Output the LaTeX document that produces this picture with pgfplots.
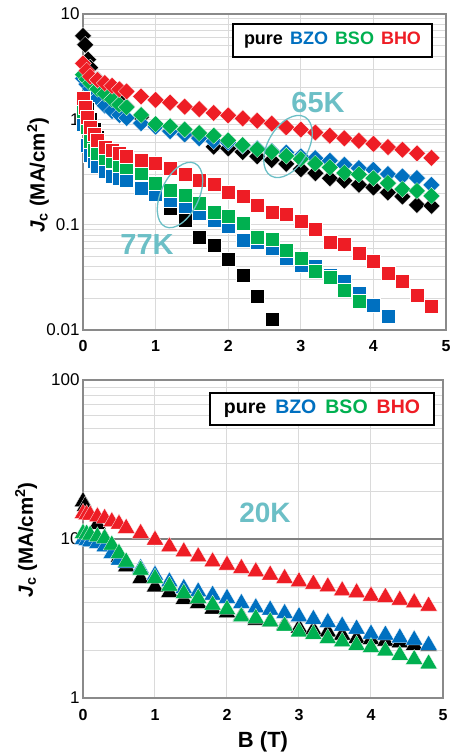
\documentclass[border=0pt]{standalone}
\usepackage{fontspec}
\setmainfont{Liberation Sans}
\usepackage{pgfplots}
\pgfplotsset{compat=1.18}
\usepackage{pgfplotstable}

\definecolor{cpure}{HTML}{000000}
\definecolor{cbzo}{HTML}{0070C0}
\definecolor{cbso}{HTML}{00B050}
\definecolor{cbho}{HTML}{EE1D25}
\definecolor{anno}{HTML}{6CBFC6}
\definecolor{gridc}{HTML}{DADADA}
\definecolor{framec}{HTML}{8A8A8A}

% Jc (MA/cm^2) vs B (T), 65 K
\pgfplotstableread{
B     pure   BZO    BSO    BHO
0     6.2    2.45   2.65   3.4
0.03  5.1    nan    nan    nan
0.05  nan    2.15   2.4    2.9
0.07  3.7    nan    nan    nan
0.1   3.1    1.95   2.2    2.55
0.2   2.4    1.6    1.95   2.37
0.3   2.0    1.35   1.75   2.21
0.4   1.7    1.2    1.55   2.08
0.5   1.5    1.1    1.38   1.93
0.6   1.32   1.03   1.3    1.84
0.8   1.05   0.92   1.1    1.65
1.0   0.87   0.85   0.9    1.53
1.2   0.78   0.77   0.86   1.44
1.4   0.72   0.72   0.80   1.32
1.6   0.68   0.66   0.74   1.25
1.8   0.55   0.62   0.70   1.15
2.0   0.53   0.60   0.63   1.09
2.2   0.49   0.56   0.57   1.02
2.4   0.445  0.53   0.52   0.97
2.6   0.41   0.50   0.49   0.91
2.8   0.378  0.484  0.45   0.84
3.0   0.336  0.444  0.42   0.80
3.2   0.308  0.428  0.38   0.75
3.4   0.276  0.404  0.35   0.70
3.6   0.262  0.37   0.31   0.66
3.8   0.239  0.344  0.30   0.625
4.0   0.225  0.332  0.276  0.585
4.2   0.202  0.302  0.248  0.545
4.4   0.185  0.287  0.217  0.515
4.6   0.154  0.277  0.209  0.475
4.8   0.151  0.239  0.188  0.43
}\tabA

% 77 K
\pgfplotstableread{
B     pure   BZO    BSO    BHO
0     1.6    0.9    1.2    1.6
0.03  nan    nan    nan    1.3
0.05  1.25   0.57   0.85   1.06
0.1   1.0    0.46   0.62   0.85
0.15  0.8    0.40   0.51   0.72
0.2   0.68   0.36   0.48   0.64
0.3   0.55   0.32   0.43   0.55
0.4   0.45   0.29   0.40   0.51
0.5   0.38   0.276  0.37   0.48
0.6   0.33   0.266  0.35   0.445
0.8   0.24   0.222  0.31   0.41
1.0   0.19   0.195  0.25   0.385
1.2   0.144  0.172  0.214  0.345
1.4   0.11   0.151  0.19   0.30
1.6   0.077  0.128  0.16   0.265
1.8   0.064  0.111  0.133  0.24
2.0   0.047  0.096  0.12   0.205
2.2   0.033  0.072  0.103  0.185
2.4   0.021  0.069  0.077  0.155
2.6   0.0127 0.060  0.073  0.133
2.8   nan    0.048  0.0576 0.127
3.0   nan    0.0417 0.048  0.107
3.2   nan    0.040  0.036  0.09
3.4   nan    0.0334 0.032  0.069
3.6   nan    0.0288 0.024  0.066
3.8   nan    0.0223 0.0186 0.054
4.0   nan    0.0173 nan    0.045
4.2   nan    0.0134 nan    0.035
4.4   nan    nan    nan    0.029
4.6   nan    nan    nan    0.0216
4.8   nan    nan    nan    0.0167
}\tabB

% 20 K
\pgfplotstableread{
B     pure   BZO    BSO    BHO
0     17.2   9.96   10.86  14.51
0.03  16.1   nan    nan    nan
0.05  nan    9.79   10.75  14.26
0.1   nan    9.62   10.60  14.16
0.2   12.4   9.40   10.34  13.81
0.3   10.1   8.94   10.10  13.50
0.4   9.0    8.13   9.17   12.85
0.5   7.7    7.38   8.13   12.43
0.6   6.7    7.07   7.17   11.68
0.8   5.65   6.54   6.38   10.86
1.0   5.0    5.94   5.66   9.86
1.2   4.62   5.39   5.06   8.94
1.4   4.18   4.90   4.55   8.32
1.6   3.94   4.66   4.24   7.74
1.8   3.63   4.44   3.85   7.20
2.0   3.44   4.24   3.61   6.86
2.2   3.28   3.94   3.25   6.54
2.4   3.09   3.70   3.17   6.23
2.6   3.02   3.58   3.02   5.94
2.8   2.88   3.41   2.84   5.66
3.0   2.76   3.25   2.61   5.39
3.2   2.68   3.13   2.52   5.21
3.4   2.61   2.99   2.37   5.01
3.6   2.49   2.84   2.26   4.73
3.8   2.37   2.72   2.15   4.60
4.0   2.34   2.53   2.08   4.38
4.2   2.28   2.49   1.98   4.30
4.4   2.23   2.39   1.86   4.13
4.6   2.15   2.32   1.75   3.98
4.8   2.12   2.15   1.64   3.79
}\tabC

\begin{document}
\begin{tikzpicture}
\useasboundingbox (0pt,0pt) rectangle (454pt,-755pt);

% upper panel: 65 K (diamonds) and 77 K (squares)
\begin{axis}[
  scale only axis,
  at={(83pt,-330pt)}, anchor=south west,
  width=363pt, height=316pt,
  ymode=log,
  xmin=0, xmax=5, ymin=0.01, ymax=10,
  xtick={0,1,2,3,4,5},
  log ticks with fixed point,
  axis line style={framec, line width=1.3pt},
  grid=both,
  major grid style={gridc, line width=1pt},
  minor grid style={gridc, line width=0.7pt},
  major tick length=0pt, minor tick length=0pt,
  clip=false,
  /pgf/number format/assume math mode=true,
  yticklabel style={font=\fontsize{17}{17}\selectfont},
  xticklabel style={font=\fontsize{16}{16}\selectfont\bfseries, yshift=-7pt},
  ylabel={\bfseries\textit{J}\textsubscript{c} (MA/cm\textsuperscript{2})},
  ylabel style={font=\fontsize{20.5}{20.5}\selectfont, at={(rel axis cs:-0.124,0.49)}, anchor=center},
]
\addplot[only marks, mark=square*, mark size=6pt, mark options={rotate=45, draw=white, line width=0.25pt, fill=cpure}] table[x=B,y=pure] {\tabA};
\addplot[only marks, mark=square*, mark size=6pt, mark options={rotate=45, draw=white, line width=0.25pt, fill=cbzo}] table[x=B,y=BZO] {\tabA};
\addplot[only marks, mark=square*, mark size=6pt, mark options={rotate=45, draw=white, line width=0.25pt, fill=cbso}] table[x=B,y=BSO] {\tabA};
\addplot[only marks, mark=square*, mark size=6pt, mark options={rotate=45, draw=white, line width=0.25pt, fill=cbho}] table[x=B,y=BHO] {\tabA};
\addplot[only marks, mark=square*, mark size=7pt, mark options={draw=white, line width=0.25pt, fill=cpure}] table[x=B,y=pure] {\tabB};
\addplot[only marks, mark=square*, mark size=7pt, mark options={draw=white, line width=0.25pt, fill=cbzo}] table[x=B,y=BZO] {\tabB};
\addplot[only marks, mark=square*, mark size=7pt, mark options={draw=white, line width=0.25pt, fill=cbso}] table[x=B,y=BSO] {\tabB};
\addplot[only marks, mark=square*, mark size=7pt, mark options={draw=white, line width=0.25pt, fill=cbho}] table[x=B,y=BHO] {\tabB};
\end{axis}

% lower panel: 20 K (triangles)
\begin{axis}[
  scale only axis,
  at={(83pt,-698pt)}, anchor=south west,
  width=360pt, height=318pt,
  ymode=log,
  xmin=0, xmax=5, ymin=1, ymax=100,
  xtick={0,1,2,3,4,5},
  log ticks with fixed point,
  extra y ticks={10}, extra y tick labels={},
  extra y tick style={grid=major, major grid style={black!50, line width=1.1pt}},
  axis line style={framec, line width=1.3pt},
  grid=both,
  major grid style={gridc, line width=1pt},
  minor grid style={gridc, line width=0.7pt},
  major tick length=0pt, minor tick length=0pt,
  clip=false,
  /pgf/number format/assume math mode=true,
  yticklabel style={font=\fontsize{17}{17}\selectfont},
  xticklabel style={font=\fontsize{16}{16}\selectfont\bfseries, yshift=-8pt},
  ylabel={\bfseries\textit{J}\textsubscript{c} (MA/cm\textsuperscript{2})},
  ylabel style={font=\fontsize{20.5}{20.5}\selectfont, at={(rel axis cs:-0.158,0.497)}, anchor=center},
  xlabel={\bfseries B (T)},
  xlabel style={font=\fontsize{22}{22}\selectfont, at={(rel axis cs:0.5,-0.138)}, anchor=center},
]
\addplot[only marks, mark=triangle*, mark size=10pt, mark options={draw=white, line width=0.25pt, fill=cpure}] table[x=B,y=pure] {\tabC};
\addplot[only marks, mark=triangle*, mark size=10pt, mark options={draw=white, line width=0.25pt, fill=cbzo}] table[x=B,y=BZO] {\tabC};
\addplot[only marks, mark=triangle*, mark size=10pt, mark options={draw=white, line width=0.25pt, fill=cbso}] table[x=B,y=BSO] {\tabC};
\addplot[only marks, mark=triangle*, mark size=10pt, mark options={draw=white, line width=0.25pt, fill=cbho}] table[x=B,y=BHO] {\tabC};
\end{axis}

% legends (coloured words)
\node[draw=black, line width=1.3pt, fill=white, minimum width=199pt, minimum height=33pt,
  font=\fontsize{18}{18}\selectfont\bfseries] at (332.5pt,-40.5pt)
  {pure\hspace{7pt}\textcolor{cbzo}{BZO}\hspace{7pt}\textcolor{cbso}{BSO}\hspace{7pt}\textcolor{cbho}{BHO}};
\node[draw=black, line width=1.3pt, fill=white, minimum width=224pt, minimum height=32pt,
  font=\fontsize{19.5}{19.5}\selectfont\bfseries] at (322pt,-409pt)
  {pure\hspace{9pt}\textcolor{cbzo}{BZO}\hspace{9pt}\textcolor{cbso}{BSO}\hspace{9pt}\textcolor{cbho}{BHO}};

% temperature annotations
\draw[anno, line width=1.3pt, rotate around={60:(288pt,-146.5pt)}] (288pt,-146.5pt) ellipse (34pt and 20pt);
\draw[anno, line width=1.3pt, rotate around={65:(180pt,-195pt)}] (180pt,-195pt) ellipse (35pt and 19pt);
\node[anno, font=\fontsize{29}{29}\selectfont\bfseries] at (318pt,-103pt) {65K};
\node[anno, font=\fontsize{29}{29}\selectfont\bfseries] at (147pt,-245pt) {77K};
\node[anno, font=\fontsize{28}{28}\selectfont\bfseries] at (265pt,-513pt) {20K};
\end{tikzpicture}
\end{document}
